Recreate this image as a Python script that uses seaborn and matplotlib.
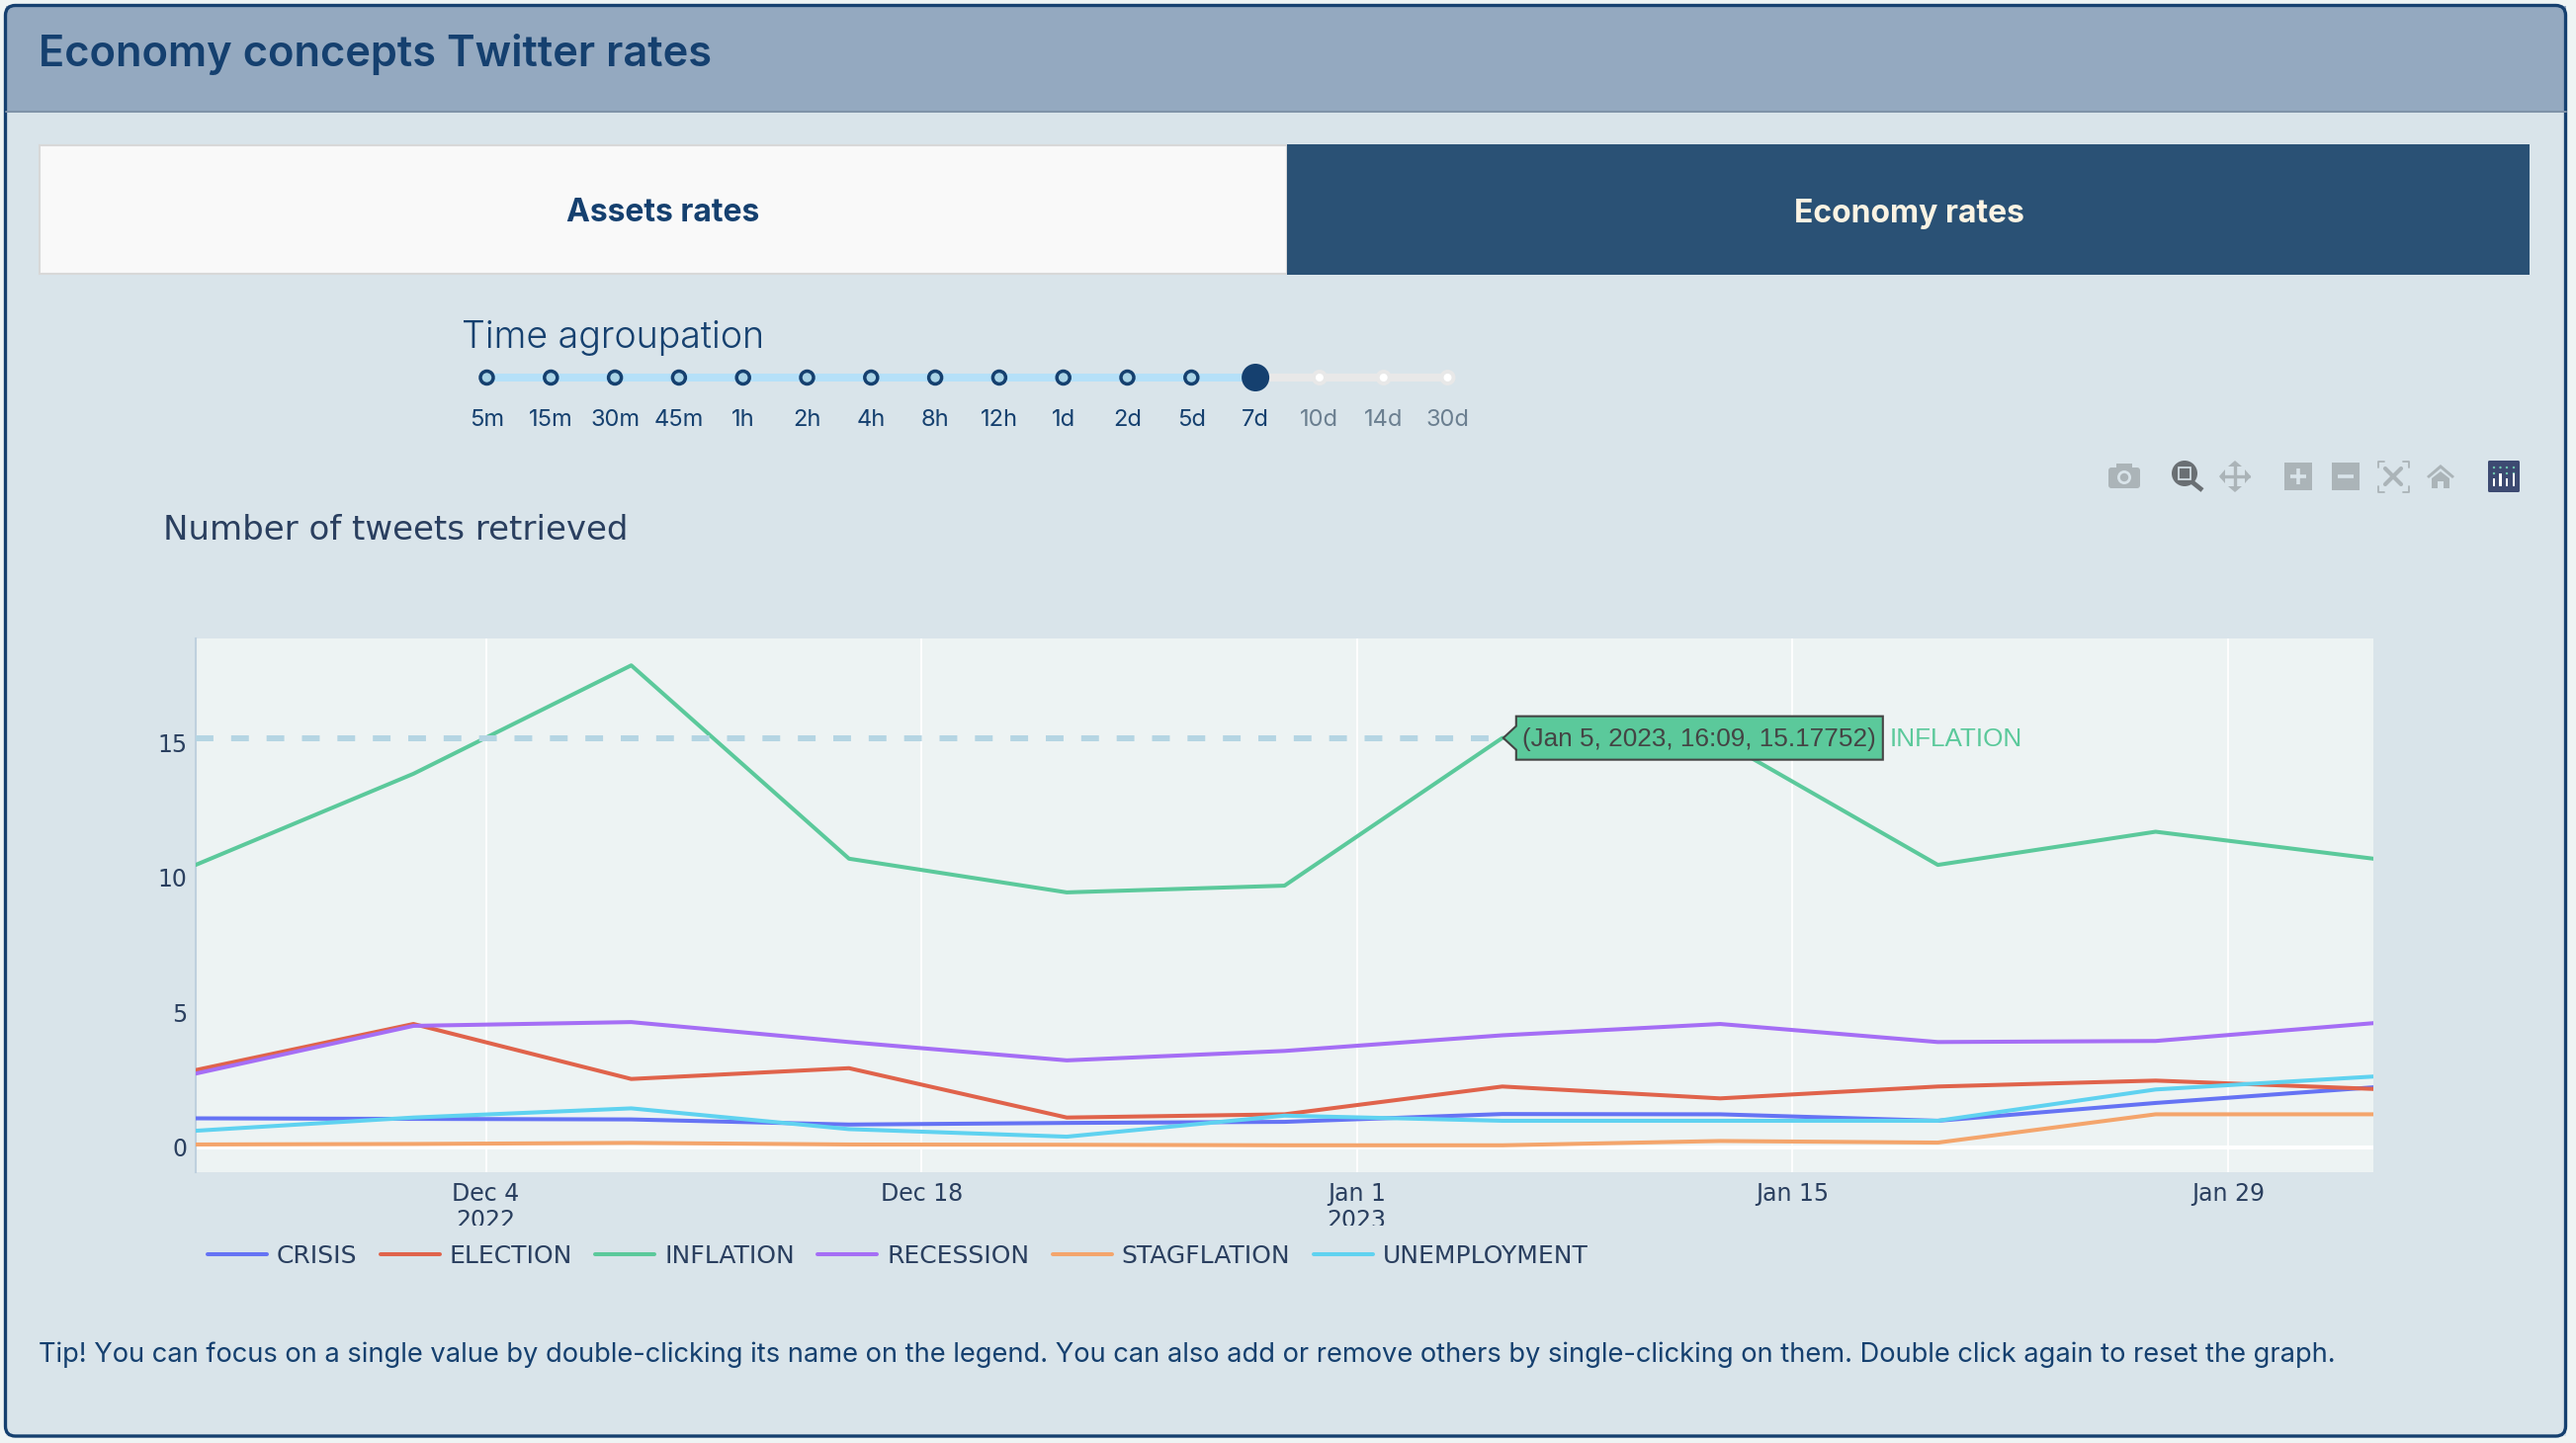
import matplotlib
matplotlib.use("Agg")
import matplotlib.pyplot as plt
import matplotlib.dates as mdates
from matplotlib.patches import Rectangle, FancyBboxPatch, Circle, Polygon
from matplotlib.transforms import Bbox
import pandas as pd
import seaborn as sns

# ---------- data ----------
dates = ["2022-11-24 16:09", "2022-12-01 16:09", "2022-12-08 16:09", "2022-12-15 16:09",
         "2022-12-22 16:09", "2022-12-29 16:09", "2023-01-05 16:09", "2023-01-12 16:09",
         "2023-01-19 16:09", "2023-01-26 16:09", "2023-02-02 16:09"]
crisis = [1.07, 1.05, 1.03, 0.84, 0.90, 0.94, 1.23, 1.22, 0.98, 1.64, 2.22]
election = [2.86, 4.57, 2.53, 2.93, 1.10, 1.22, 2.25, 1.81, 2.25, 2.47, 2.16]
inflation = [10.47, 13.85, 17.87, 10.70, 9.45, 9.70, 15.17752, 15.10, 10.47, 11.70, 10.70]
recession = [2.73, 4.50, 4.64, 3.90, 3.22, 3.57, 4.15, 4.57, 3.90, 3.94, 4.60]
stagflation = [0.10, 0.12, 0.16, 0.10, 0.09, 0.07, 0.07, 0.23, 0.17, 1.22, 1.22]
unemployment = [0.61, 1.10, 1.44, 0.67, 0.39, 1.17, 0.98, 0.98, 0.98, 2.14, 2.62]
series_names = ["CRISIS", "ELECTION", "INFLATION", "RECESSION", "STAGFLATION", "UNEMPLOYMENT"]
series_values = [crisis, election, inflation, recession, stagflation, unemployment]
series_colors = ["#6573F4", "#E0634B", "#5BC99B", "#A56EF5", "#F4A56C", "#5FD2F0"]
x_ticks = ["2022-12-04", "2022-12-18", "2023-01-01", "2023-01-15", "2023-01-29"]
x_labels = ["Dec 4\n2022", "Dec 18", "Jan 1\n2023", "Jan 15", "Jan 29"]
y_ticks = [0, 5, 10, 15]
slider_labels = ["5m", "15m", "30m", "45m", "1h", "2h", "4h", "8h", "12h", "1d", "2d", "5d", "7d", "10d", "14d", "30d"]
slider_selected = "7d"
hover_date = "2023-01-05 16:09"
hover_value = 15.17752
hover_text = "(Jan 5, 2023, 16:09, 15.17752)"

# ---------- style ----------
W, H = 2606, 1460
PAGE = "#EEF4F4"; PANEL = "#D9E4EA"; HEAD = "#94A9C0"; NAVY = "#15406F"
PLOT_BG = "#EDF3F3"; INK = "#2A3F5F"; UI = "Inter"; PLOT_FONT = "DejaVu Sans"

sns.set_theme(style="white")
fig = plt.figure(figsize=(W / 100, H / 100), dpi=100, facecolor=PAGE)


def px_axes(z):
    a = fig.add_axes([0, 0, 1, 1], zorder=z)
    a.set_xlim(0, W); a.set_ylim(H, 0); a.axis("off")
    a.patch.set_alpha(0)
    return a


bg = px_axes(0)
top = px_axes(5)

# panel
bg.add_patch(Rectangle((6, 6), 2590, 107, fc=HEAD, ec="none"))
bg.add_patch(Rectangle((6, 113), 2590, 1340, fc=PANEL, ec="none"))
bg.plot([6, 2596], [113, 113], color="#7F92A8", lw=1.4)
bg.add_patch(FancyBboxPatch((5.5, 5.5), 2590, 1447.5, boxstyle="round,pad=0,rounding_size=10",
                            fc="none", ec=NAVY, lw=2.4))
bg.text(39, 55, "Economy concepts Twitter rates", fontsize=31.3, fontweight=600, family=UI, color=NAVY, va="center")

# tabs
bg.add_patch(Rectangle((39.5, 147), 1262, 130, fc="#F9F9F9", ec="#D8D8D8", lw=1.5))
bg.add_patch(Rectangle((1302, 146), 1257, 132, fc="#2A5175", ec="none"))
bg.text(671, 216, "Assets rates", fontsize=23, fontweight="bold", family=UI, color=NAVY, ha="center", va="center")
bg.text(1931, 216, "Economy rates", fontsize=23, fontweight="bold", family=UI, color="#FBF3E3", ha="center", va="center")

# slider
bg.text(467, 342, "Time agroupation", fontsize=27, family=UI, fontweight=300, color=NAVY, va="center")
sx0, sdx, sy = 492.5, 64.8, 382
sel = slider_labels.index(slider_selected)
bg.add_patch(Rectangle((sx0, sy - 4), sdx * sel, 8, fc="#B5E0F8", ec="none"))
bg.add_patch(Rectangle((sx0 + sdx * sel, sy - 4), sdx * (len(slider_labels) - 1 - sel), 8, fc="#E8E8E8", ec="none"))
for i, lab in enumerate(slider_labels):
    cx = sx0 + i * sdx
    if i < sel:
        bg.add_patch(Circle((cx, sy), 6.5, fc="#A9D3E6", ec=NAVY, lw=2.5))
    elif i == sel:
        bg.add_patch(Circle((cx, sy), 14, fc=NAVY, ec="none"))
    else:
        bg.add_patch(Circle((cx, sy), 8, fc="#E8E8E8", ec="none"))
        bg.add_patch(Circle((cx, sy), 4, fc="white", ec="none"))
    bg.text(cx, 425, lab, fontsize=17, family=UI, color=NAVY if i <= sel else "#6B7F90", ha="center", va="center")

# toolbar icons
GR = "#ABB4B8"
bg.add_patch(FancyBboxPatch((2133, 473), 32, 21, boxstyle="round,pad=0,rounding_size=3", fc=GR, ec="none"))
bg.add_patch(Rectangle((2141, 469), 16, 5, fc=GR, ec="none"))
bg.add_patch(Circle((2149, 483), 7, fc=PANEL, ec="none"))
bg.add_patch(Circle((2149, 483), 4.2, fc=GR, ec="none"))
bg.add_patch(Circle((2210, 479), 13, fc="#6A6F73", ec="none"))
bg.plot([2218, 2228], [488, 496], color="#6A6F73", lw=3.4, solid_capstyle="butt")
bg.add_patch(Rectangle((2204, 473), 12, 12, fc="#6A6F73", ec=PANEL, lw=1.2))
bg.plot([2261, 2261], [470, 494], color=GR, lw=2.4)
bg.plot([2247, 2275], [482, 482], color=GR, lw=2.4)
bg.add_patch(Polygon([(2254, 472), (2261, 466), (2268, 472)], fc=GR, ec="none"))
bg.add_patch(Polygon([(2254, 492), (2261, 498), (2268, 492)], fc=GR, ec="none"))
bg.add_patch(Polygon([(2251, 475), (2245, 482), (2251, 489)], fc=GR, ec="none"))
bg.add_patch(Polygon([(2271, 475), (2277, 482), (2271, 489)], fc=GR, ec="none"))
for cx in (2325, 2373):
    bg.add_patch(Rectangle((cx - 14, 468), 28, 28, fc=GR, ec="none"))
    bg.plot([cx - 8, cx + 8], [482, 482], color=PANEL, lw=2.6, solid_capstyle="butt")
bg.plot([2325, 2325], [474, 490], color=PANEL, lw=2.6, solid_capstyle="butt")
for (sxx, syy) in [(-1, -1), (1, -1), (-1, 1), (1, 1)]:
    cxx, cyy = 2421 + sxx * 15.5, 482 + syy * 15.5
    bg.plot([cxx - sxx * 6, cxx, cxx], [cyy, cyy, cyy - syy * 6], color=GR, lw=1.3)
bg.plot([2413, 2429], [474, 490], color=GR, lw=3)
bg.plot([2413, 2429], [490, 474], color=GR, lw=3)
bg.add_patch(Polygon([(2455, 482), (2469, 470), (2483, 482), (2481, 484), (2469, 474), (2457, 484)], fc=GR, ec="none"))
bg.add_patch(Polygon([(2460, 484), (2469, 477), (2478, 484), (2478, 494), (2472, 494), (2472, 487), (2466, 487), (2466, 494), (2460, 494)], fc=GR, ec="none"))
bg.add_patch(FancyBboxPatch((2517, 466), 32, 32, boxstyle="round,pad=0,rounding_size=1.5", fc="#3D4A72", ec="none"))
for k, cx in enumerate((2523, 2529.5, 2536, 2543)):
    bg.add_patch(Circle((cx, 473), 1.2, fc="#6FC9B0", ec="none"))
    if k != 1:
        bg.add_patch(Circle((cx, 479), 1.2, fc="#6FC9B0", ec="none"))
    bg.add_patch(Rectangle((cx - 1.3, 492 - (8 if k in (0, 2) else 13)), 2.6, 8 if k in (0, 2) else 13, fc="white", ec="none"))

bg.text(165, 536, "Number of tweets retrieved", fontsize=24.5, family=PLOT_FONT, color=INK, va="center")
bg.text(39, 1371, "Tip! You can focus on a single value by double-clicking its name on the legend. "
        "You can also add or remove others by single-clicking on them. Double click again to reset the graph.",
        fontsize=19.63, family=UI, color=NAVY, va="center")

# ---------- chart ----------
L, R, T, B = 198, 2401, 646, 1186
ax = fig.add_axes([L / W, 1 - B / H, (R - L) / W, (B - T) / H], zorder=2)
ax.set_facecolor(PLOT_BG)
df = pd.concat([pd.DataFrame({"date": pd.to_datetime(dates), "value": v, "series": n})
                for n, v in zip(series_names, series_values)])
# grid and zero line below the series
for t in x_ticks:
    ax.axvline(pd.Timestamp(t), color="white", lw=1.3, zorder=1)
ax.axhline(0, color="white", lw=2.9, zorder=1)
sns.lineplot(data=df, x="date", y="value", hue="series", hue_order=series_names,
             palette=dict(zip(series_names, series_colors)), ax=ax, lw=2.9, sort=False, zorder=3)
ax.set_xlim(pd.Timestamp(dates[0]), pd.Timestamp(dates[-1]))
y_per_px = 1 / 27.28
ax.set_ylim((1160.7 - B) * y_per_px, (1160.7 - T) * y_per_px)
ax.set_xlabel(""); ax.set_ylabel("")
for s in ("top", "right", "bottom"):
    ax.spines[s].set_visible(False)
ax.spines["left"].set_color("#BFD0DE"); ax.spines["left"].set_linewidth(1.5)
ax.grid(False)
ax.set_yticks(y_ticks)
ax.set_xticks(pd.to_datetime(x_ticks))
ax.set_xticklabels(x_labels)
ax.tick_params(axis="both", length=0, labelsize=17, labelcolor=INK)
ax.tick_params(axis="x", pad=7)
ax.tick_params(axis="y", pad=6)
clip_box = Bbox([[0, H - 1240], [W, H]])
for lbl in ax.get_xticklabels() + ax.get_yticklabels():
    lbl.set_family(PLOT_FONT)
for lbl in ax.get_xticklabels():
    lbl.set_linespacing(1.15)
    lbl.set_clip_box(clip_box)
    lbl.set_clip_on(True)

handles, labels = ax.get_legend_handles_labels()
leg = ax.legend(handles, labels, loc="upper left", ncol=6, frameon=False, handlelength=2.4, handletextpad=0.4,
                columnspacing=0.93, borderpad=0, borderaxespad=0, labelcolor=INK,
                prop={"family": PLOT_FONT, "size": 18})
leg.set_bbox_to_anchor((210, 1259), transform=top.transData)
for h in leg.get_lines():
    h.set_linewidth(2.9)

# hover spike
hx = pd.Timestamp(hover_date)
ax.plot([pd.Timestamp(dates[0]), hx], [hover_value, hover_value], color="#B5D5E3", lw=4.3,
        dashes=(3, 3), dash_capstyle="butt", zorder=4)

# hover label (anchored on the data point via the axes transform)
hp = top.transData.inverted().transform(ax.transData.transform((mdates.date2num(hx), hover_value)))
ax0, ay0 = hp
top.add_patch(Polygon([(ax0 + 1, ay0), (ax0 + 14, ay0 - 12), (ax0 + 14, ay0 - 22), (ax0 + 385, ay0 - 22),
                       (ax0 + 385, ay0 + 22), (ax0 + 14, ay0 + 22), (ax0 + 14, ay0 + 12)],
                      fc="#5BC99B", ec="#444444", lw=1.5, joinstyle="miter"))
top.text(ax0 + 199, ay0 + 1, hover_text, fontsize=18.8, family="Liberation Sans", color="#444444", ha="center", va="center")
top.text(ax0 + 392, ay0 + 1, "INFLATION", fontsize=18.8, family="Liberation Sans", color="#5BC99B", ha="left", va="center")

fig.savefig("out.png", dpi=100, facecolor=PAGE)
